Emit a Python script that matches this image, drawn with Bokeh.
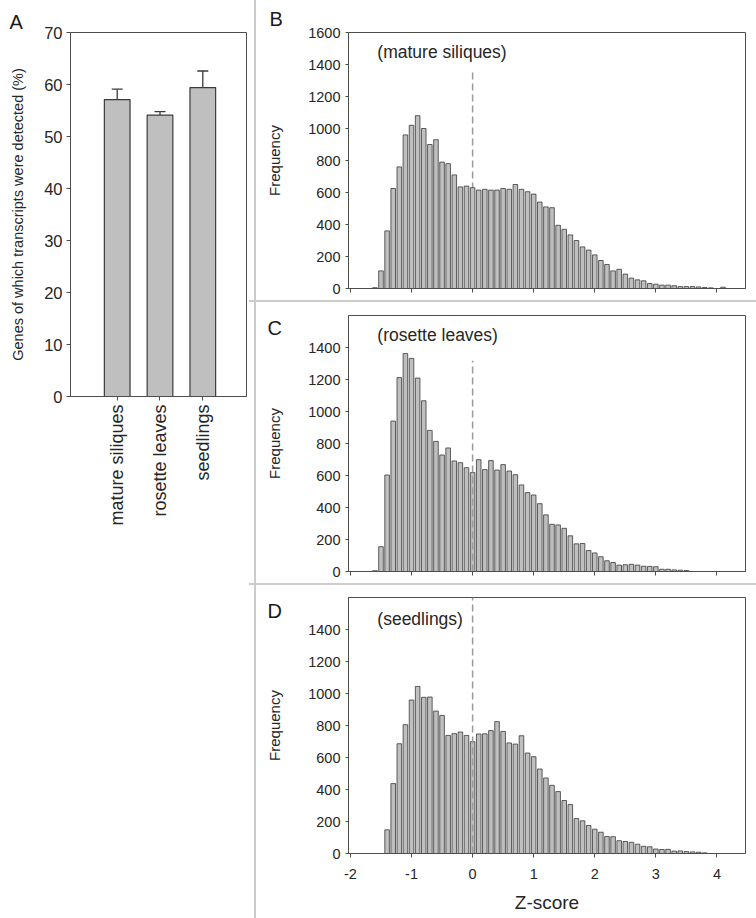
import math
from bokeh.plotting import figure
from bokeh.models import FixedTicker, Label, Whisker, ColumnDataSource, Range1d, TeeHead
from bokeh.layouts import row, column
from bokeh.embed import file_html
from bokeh.resources import INLINE

FONT = "Liberation Sans"
TXT = "#262626"
AXC = "#4d4d4d"
BAR_FILL = "#bfbfbf"
BAR_LINE = "#3a3a3a"
SEP = "#cccccc"

# ---------------- data ----------------
categories = ["mature siliques", "rosette leaves", "seedlings"]
detected_pct = [57.1, 54.1, 59.4]
detected_err = [2.0, 0.7, 3.2]
pct_ticks = [0, 10, 20, 30, 40, 50, 60, 70]

z_centers = [-1.6, -1.5, -1.4, -1.3, -1.2, -1.1, -1.0, -0.9, -0.8, -0.7, -0.6, -0.5,
             -0.4, -0.3, -0.2, -0.1, 0.0, 0.1, 0.2, 0.3, 0.4, 0.5, 0.6, 0.7, 0.8, 0.9,
             1.0, 1.1, 1.2, 1.3, 1.4, 1.5, 1.6, 1.7, 1.8, 1.9, 2.0, 2.1, 2.2, 2.3, 2.4,
             2.5, 2.6, 2.7, 2.8, 2.9, 3.0, 3.1, 3.2, 3.3, 3.4, 3.5, 3.6, 3.7, 3.8, 3.9,
             4.0, 4.1]

freq_siliques = [5, 110, 360, 625, 760, 960, 1020, 1080, 1000, 900, 930, 790,
                 780, 710, 635, 640, 630, 615, 620, 615, 615, 625, 620, 650, 620, 605,
                 590, 540, 510, 505, 395, 370, 335, 300, 260, 240, 210, 175, 150, 110, 120,
                 90, 65, 54, 48, 31, 27, 21, 21, 17, 12, 12, 12, 10, 6, 4,
                 0, 8]

freq_leaves = [5, 155, 603, 940, 1212, 1362, 1332, 1209, 1067, 882, 813, 728,
               772, 691, 680, 649, 618, 699, 637, 693, 634, 668, 628, 605, 541, 493,
               478, 424, 354, 295, 291, 270, 223, 173, 175, 131, 116, 92, 67, 56, 40,
               42, 45, 40, 33, 32, 30, 14, 14, 10, 8, 6, 0, 0, 0, 0,
               0, 0]

freq_seedlings = [0, 0, 148, 437, 686, 805, 959, 1044, 976, 978, 890, 863,
                  738, 749, 759, 738, 699, 747, 748, 768, 824, 763, 691, 684, 736, 628,
                  605, 528, 472, 426, 387, 331, 306, 218, 204, 175, 152, 133, 106, 105, 80,
                  75, 70, 58, 45, 42, 28, 25, 26, 15, 16, 12, 10, 8, 4, 0,
                  0, 0]

freq_ticks_full = [0, 200, 400, 600, 800, 1000, 1200, 1400, 1600]
freq_ticks_short = [0, 200, 400, 600, 800, 1000, 1200, 1400]
z_ticks = [-2, -1, 0, 1, 2, 3, 4]
z_tick_labels = {-2: "-2", -1: "-1", 0: "0", 1: "1", 2: "2", 3: "3", 4: "4"}
zero_z = 0.0


def style_axes(p, tick_size):
    for ax in (p.xaxis[0], p.yaxis[0]):
        ax.axis_line_color = AXC
        ax.axis_line_width = 1
        ax.major_tick_line_color = AXC
        ax.major_tick_in = 0
        ax.minor_tick_line_color = None
        ax.major_label_text_font = FONT
        ax.major_label_text_color = TXT
        ax.major_label_text_font_size = tick_size
        ax.axis_label_text_font = FONT
        ax.axis_label_text_color = TXT
        ax.axis_label_text_font_style = "normal"
    p.xgrid.grid_line_color = None
    p.ygrid.grid_line_color = None
    p.outline_line_color = AXC
    p.outline_line_width = 1
    p.background_fill_color = "white"


def letter(p, txt, x, y, side):
    p.add_layout(Label(x=x, y=y, x_units="screen", y_units="screen", text=txt,
                       text_font=FONT, text_font_size="20px", text_color="#1a1a1a",
                       text_baseline="alphabetic", text_align="left"), side)


# ---------------- panel A ----------------
xpos = [1, 2, 3]
pA = figure(width=249, height=546, x_range=Range1d(-0.091, 4.021), y_range=Range1d(0, 70),
            output_backend="svg", toolbar_location=None,
            min_border_left=70, min_border_right=3, min_border_top=32, min_border_bottom=150)
pA.vbar(x=xpos, top=detected_pct, width=0.6, fill_color=BAR_FILL, line_color=BAR_LINE,
        line_width=1.2)
upper = [m + e for m, e in zip(detected_pct, detected_err)]
wsrc = ColumnDataSource(dict(x=xpos, lower=detected_pct, upper=upper))
pA.add_layout(Whisker(base="x", lower="lower", upper="upper", source=wsrc,
                      lower_head=None,
                      upper_head=TeeHead(size=11, line_color=BAR_LINE, line_width=1.3),
                      line_color=BAR_LINE, line_width=1.3))
style_axes(pA, "16.5px")
pA.border_fill_color = "white"
pA.xaxis.ticker = FixedTicker(ticks=xpos)
pA.xaxis.major_label_overrides = {x: c for x, c in zip(xpos, categories)}
pA.xaxis.major_label_orientation = math.pi / 2
pA.xaxis.major_label_text_font_size = "18px"
pA.xaxis.major_tick_out = 4
pA.xaxis.major_label_standoff = 4
pA.yaxis.ticker = FixedTicker(ticks=pct_ticks)
pA.yaxis.major_tick_out = 4
pA.yaxis.major_label_standoff = 4
pA.yaxis.axis_label = "Genes of which transcripts were detected (%)"
pA.yaxis.axis_label_text_font_size = "14.5px"
pA.yaxis.axis_label_standoff = 15
letter(pA, "A", -61, 11, "above")


# ---------------- histograms ----------------
def hist_panel(freq, note, note_y, dash_top, dash_behind, height, top_b, bottom_b, yticks,
               x_labels):
    p = figure(width=507, height=height, x_range=Range1d(-2.032, 4.468),
               y_range=Range1d(0, 1600), output_backend="svg", toolbar_location=None,
               min_border_left=95, min_border_right=11, min_border_top=top_b,
               min_border_bottom=bottom_b)
    zs = [z for z, f in zip(z_centers, freq) if f > 0]
    fs = [f for f in freq if f > 0]

    def dash():
        p.segment(x0=[zero_z], y0=[0], x1=[zero_z], y1=[dash_top], line_color="#9a9a9a",
                  line_width=1.5, line_dash="7 4")

    if dash_behind:
        dash()
    p.vbar(x=zs, top=fs, width=0.075, bottom=0, fill_color=BAR_FILL, line_color=BAR_LINE,
           line_width=0.8)
    if not dash_behind:
        dash()
    p.text(x=[-1.56], y=[note_y], text=[note], text_font={"value": FONT},
           text_font_size={"value": "17.5px"}, text_color=TXT, text_baseline="middle",
           text_align="left")
    style_axes(p, "14.5px")
    p.border_fill_color = None
    p.xaxis.ticker = FixedTicker(ticks=z_ticks)
    p.xaxis.major_tick_out = 4
    if x_labels:
        p.xaxis.major_label_overrides = z_tick_labels
        p.xaxis.major_label_standoff = 11
        p.xaxis.axis_label = "Z-score"
        p.xaxis.axis_label_text_font_size = "19px"
        p.xaxis.axis_label_standoff = 10
    else:
        p.xaxis.major_label_text_font_size = "1px"
        p.xaxis.major_label_text_color = None
        p.xaxis.major_label_standoff = 0
    p.yaxis.ticker = FixedTicker(ticks=yticks)
    p.yaxis.major_tick_out = 3
    p.yaxis.major_label_standoff = 5
    p.yaxis.axis_label = "Frequency"
    p.yaxis.axis_label_text_font_size = "15px"
    p.yaxis.axis_label_standoff = 22
    return p


pB = hist_panel(freq_siliques, "(mature siliques)", 1479, 1370, True, 302, 32, 14,
                freq_ticks_full, False)
pC = hist_panel(freq_leaves, "(rosette leaves)", 1477, 1317, False, 283, 13, 14,
                freq_ticks_short, False)
pD = hist_panel(freq_seedlings, "(seedlings)", 1467, 1600, False, 333, 12, 65,
                freq_ticks_short, True)

letter(pB, "B", -79, 14, "above")
letter(pC, "C", 18, 244, "left")
letter(pD, "D", 18, 243, "left")

vline = f"inset 5px 0 0 #ffffff, inset 7px 0 0 {SEP}"
pB.styles = {"box-shadow": vline, "background": "white"}
pC.styles = {"box-shadow": f"{vline}, 0 -2px 0 {SEP}", "background": "white"}
pD.styles = {"box-shadow": f"{vline}, 0 -2px 0 {SEP}", "background": "white"}

layout = row(pA, column(pB, pC, pD, spacing=0), spacing=0)

open("out.html", "w").write(file_html(layout, INLINE))
